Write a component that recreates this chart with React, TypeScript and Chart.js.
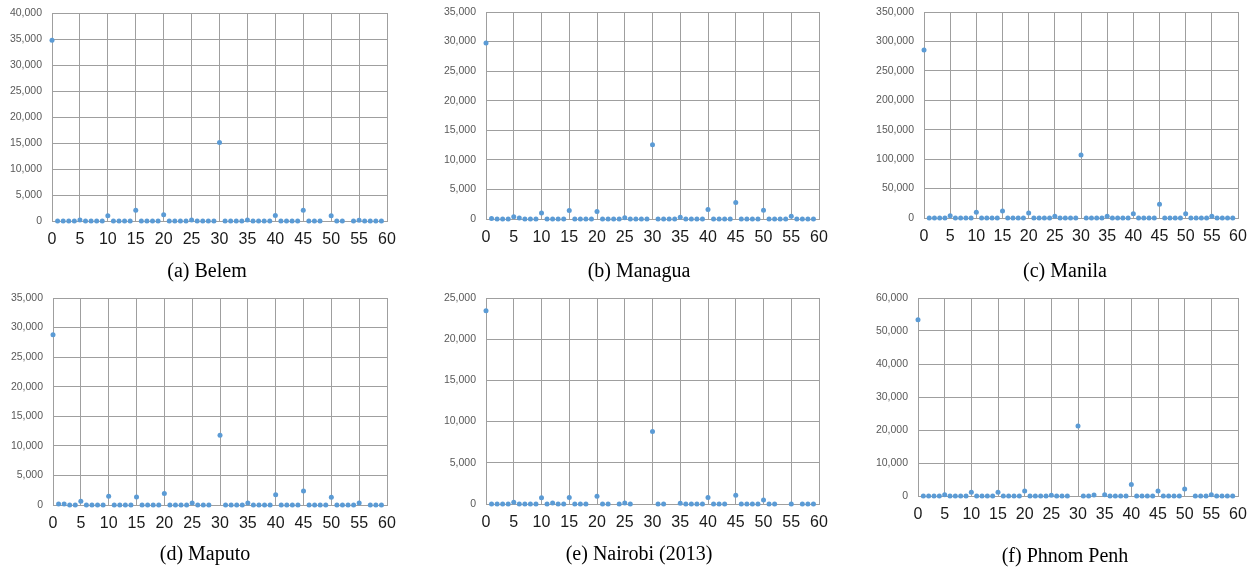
import React, { useEffect, useRef } from "react";
import { Chart, registerables } from "chart.js";

Chart.register(...registerables);

// Category values (x axis)
const X_VALUES = [
  0, 1, 2, 3, 4, 5, 6, 7, 8, 9, 10, 11, 12, 13, 14, 15, 16, 17, 18, 19,
  20, 21, 22, 23, 24, 25, 26, 27, 28, 29, 30, 31, 32, 33, 34, 35, 36, 37, 38, 39,
  40, 41, 42, 43, 44, 45, 46, 47, 48, 49, 50, 51, 52, 53, 54, 55, 56, 57, 58, 59,
];

// (a) Belem
const BELEM = [
  34750, 0, 0, 0, 0, 200, 0, 0, 0, 0,
  1000, 0, 0, 0, 0, 2050, 0, 0, 0, 0,
  1200, 0, 0, 0, 0, 200, 0, 0, 0, 0,
  15100, 0, 0, 0, 0, 200, 0, 0, 0, 0,
  1050, 0, 0, 0, 0, 2050, 0, 0, 0, null,
  1000, 0, 0, null, 0, 150, 0, 0, 0, 0,
];

// (b) Managua
const MANAGUA = [
  29750, 100, 0, 0, 0, 400, 150, 0, 0, 0,
  1000, 0, 0, 0, 0, 1450, 0, 0, 0, 0,
  1250, 0, 0, 0, 0, 200, 0, 0, 0, 0,
  12550, 0, 0, 0, 0, 300, 0, 0, 0, 0,
  1600, 0, 0, 0, 0, 2800, 0, 0, 0, 0,
  1500, 0, 0, 0, 0, 450, 0, 0, 0, 0,
];

// (c) Manila
const MANILA = [
  285500, 0, 0, 0, 0, 4000, 0, 0, 0, 0,
  9600, 0, 0, 0, 0, 11900, 0, 0, 0, 0,
  8500, 0, 0, 0, 0, 2800, 0, 0, 0, 0,
  107000, 0, 0, 0, 0, 2800, 0, 0, 0, 0,
  7400, 0, 0, 0, 0, 23200, 0, 0, 0, 0,
  7400, 0, 0, 0, 0, 2800, 0, 0, 0, 0,
];

// (d) Maputo
const MAPUTO = [
  28800, 150, 150, 0, 0, 650, 0, 0, 0, 0,
  1500, 0, 0, 0, 0, 1350, 0, 0, 0, 0,
  1950, 0, 0, 0, 0, 350, 0, 0, 0, null,
  11800, 0, 0, 0, 0, 350, 0, 0, 0, 0,
  1750, 0, 0, 0, 0, 2350, 0, 0, 0, 0,
  1300, 0, 0, 0, 0, 350, null, 0, 0, 0,
];

// (e) Nairobi (2013)
const NAIROBI = [
  23450, 0, 0, 0, 0, 200, 0, 0, 0, 0,
  750, 0, 120, 0, 0, 800, 0, 0, 0, null,
  950, 0, 0, null, 0, 120, 0, null, null, null,
  8800, 0, 0, null, null, 100, 0, 0, 0, 0,
  800, 0, 0, 0, null, 1050, 0, 0, 0, 0,
  500, 0, 0, null, null, 0, null, 0, 0, 0,
];

// (f) Phnom Penh
const PHNOM_PENH = [
  53400, 0, 0, 0, 0, 400, 0, 0, 0, 0,
  1100, 0, 0, 0, 0, 1100, 0, 0, 0, 0,
  1500, 0, 0, 0, 0, 200, 0, 0, 0, null,
  21200, 0, 0, 300, null, 400, 0, 0, 0, 0,
  3500, 0, 0, 0, 0, 1500, 0, 0, 0, 0,
  2100, null, 0, 0, 0, 400, 0, 0, 0, 0,
];

const CAPTIONS = ["(a) Belem", "(b) Managua", "(c) Manila", "(d) Maputo", "(e) Nairobi (2013)", "(f) Phnom Penh"];
const SERIES = [BELEM, MANAGUA, MANILA, MAPUTO, NAIROBI, PHNOM_PENH];
const Y_MAX = [40000, 35000, 350000, 35000, 25000, 60000];
const Y_STEP = [5000, 5000, 50000, 5000, 5000, 10000];

// Layout (plot area rectangles and caption centres)
const LAYOUT = [
  { l: 52, r: 387, t: 13, b: 221, cx: 207, cy: 270 },
  { l: 486, r: 819, t: 12, b: 219, cx: 639, cy: 270 },
  { l: 924, r: 1238, t: 12, b: 218, cx: 1065, cy: 270 },
  { l: 53, r: 387, t: 298, b: 505, cx: 205, cy: 553 },
  { l: 486, r: 819, t: 298, b: 504, cx: 639, cy: 553 },
  { l: 918, r: 1238, t: 298, b: 496, cx: 1065, cy: 555 },
];

const GRID = "#9f9f9f";
const POINT = "#5B9BD5";
const AX_W = 50;
const PAD_T = 20;
const PAD_R = 22;
const AX_H = 40;

function Panel({ idx }: { idx: number }) {
  const ref = useRef<HTMLCanvasElement | null>(null);
  const g = LAYOUT[idx];
  const left = g.l - AX_W;
  const top = g.t - PAD_T;
  const width = g.r + PAD_R - left;
  const height = g.b + AX_H - top;

  useEffect(() => {
    if (!ref.current) return;
    const values = SERIES[idx];
    const chart = new Chart(ref.current, {
      type: "scatter",
      data: {
        datasets: [
          {
            data: X_VALUES.map((x, i) => ({ x, y: values[i] as any })),
            backgroundColor: POINT,
            borderColor: POINT,
            pointRadius: 2.5,
            pointBorderWidth: 0,
            showLine: false,
            clip: false,
          } as any,
        ],
      },
      options: {
        responsive: false,
        animation: false,
        devicePixelRatio: 1,
        layout: { padding: { left: 0, top: PAD_T, right: PAD_R, bottom: 0 } },
        plugins: { legend: { display: false }, tooltip: { enabled: false } },
        scales: {
          x: {
            type: "linear",
            min: 0,
            max: 60,
            ticks: {
              stepSize: 5,
              padding: 9,
              maxRotation: 0,
              autoSkip: false,
              color: "#1a1a1a",
              font: { family: '"Liberation Sans", Arial, sans-serif', size: 16 },
            },
            grid: { color: GRID, lineWidth: 1, drawTicks: false },
            border: { color: GRID, width: 1 },
            afterFit: (s: any) => {
              s.height = AX_H;
            },
          },
          y: {
            type: "linear",
            min: 0,
            max: Y_MAX[idx],
            ticks: {
              stepSize: Y_STEP[idx],
              padding: 10,
              color: "#595959",
              font: { family: '"Liberation Sans", Arial, sans-serif', size: 10.5 },
              callback: (v: any) => Number(v).toLocaleString("en-US"),
            },
            grid: { color: GRID, lineWidth: 1, drawTicks: false },
            border: { color: GRID, width: 1 },
            afterFit: (s: any) => {
              s.width = AX_W;
            },
          },
        },
      },
    });
    return () => chart.destroy();
  }, [idx]);

  return (
    <>
      <canvas
        ref={ref}
        width={width}
        height={height}
        style={{ position: "absolute", left, top, width, height }}
      />
      <div
        style={{
          position: "absolute",
          left: g.cx - 150,
          top: g.cy - 12,
          width: 300,
          height: 24,
          lineHeight: "24px",
          textAlign: "center",
          fontFamily: '"Liberation Serif", "Times New Roman", serif',
          fontSize: 20,
          color: "#000",
          whiteSpace: "nowrap",
        }}
      >
        {CAPTIONS[idx]}
      </div>
    </>
  );
}

export default function App() {
  return (
    <div
      style={{
        position: "absolute",
        left: 0,
        top: 0,
        width: 1257,
        height: 567,
        background: "#fff",
        overflow: "hidden",
      }}
    >
      {LAYOUT.map((_, i) => (
        <Panel key={i} idx={i} />
      ))}
    </div>
  );
}
